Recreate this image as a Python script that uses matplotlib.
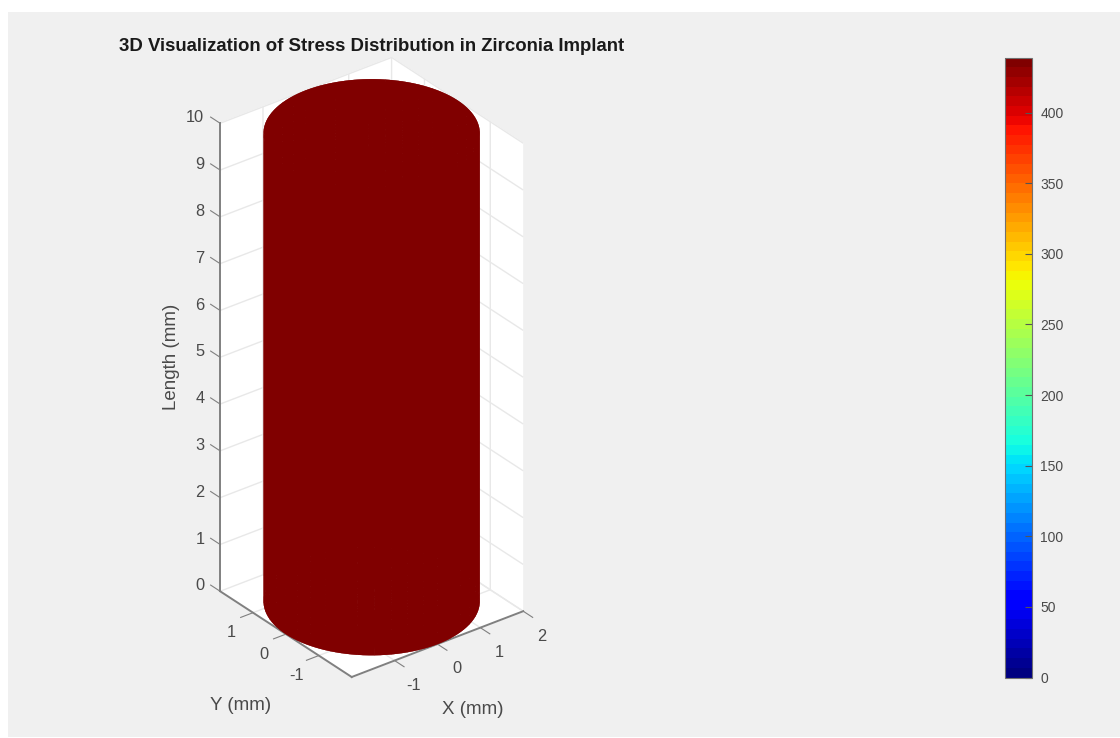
import numpy as np
import matplotlib
matplotlib.use("Agg")
import matplotlib.pyplot as plt
from matplotlib.patches import Rectangle
from matplotlib.cm import ScalarMappable
from matplotlib.colors import Normalize
from matplotlib.transforms import Affine2D
from mpl_toolkits.mplot3d import proj3d

plt.rcParams['font.family'] = ['Liberation Sans', 'DejaVu Sans']
plt.rcParams['axes.unicode_minus'] = False

# data
title = "3D Visualization of Stress Distribution in Zirconia Implant"
xlabel, ylabel, zlabel = "X (mm)", "Y (mm)", "Length (mm)"
radius = 2.0
length = 10.0
stress = 437.0
stress_min = 0.0
stress_max = 439.0
x_ticks = [-1, 0, 1, 2]
y_ticks = [-1, 0, 1]
z_ticks = list(range(0, 11))
cbar_ticks = [0, 50, 100, 150, 200, 250, 300, 350, 400]

W, H = 1120, 738
BG = '#f0f0f0'
TXT = '#4a4a4a'
fig = plt.figure(figsize=(W/100, H/100), dpi=100, facecolor='white')
fig.add_artist(Rectangle((8/W, 1-737/H), (1120-8)/W, (737-12)/H, transform=fig.transFigure,
                         facecolor=BG, edgecolor='none', zorder=-10))

S = 700
ax = fig.add_axes([(372-S/2)/W, 1-(368+S/2)/H, S/W, S/H], projection='3d', proj_type='ortho')
ax.patch.set_alpha(0)
ax.view_init(elev=30, azim=-127.5)
ax.set_xlim(-2, 2); ax.set_ylim(-2, 2); ax.set_zlim(0, 10)
ax.set_box_aspect((1, 1, 2.5), zoom=1.0)

cmap = plt.get_cmap('jet', 64)
norm = Normalize(stress_min, stress_max)
theta = np.linspace(0, 2*np.pi, 121)
zz = np.array([0.0, length])
T, Z = np.meshgrid(theta, zz)
col = cmap(norm(stress))
ax.plot_surface(radius*np.cos(T), radius*np.sin(T), Z, color=col, shade=False,
                linewidth=0.1, edgecolor=col, antialiased=True)
rr = np.array([0, radius])
R, T2 = np.meshgrid(rr, theta)
for zv in zz:
    ax.plot_surface(R*np.cos(T2), R*np.sin(T2), np.full_like(R, zv), color=col, shade=False,
                    linewidth=0.1, edgecolor=col, antialiased=True)

ax.set_xticks(x_ticks); ax.set_yticks(y_ticks); ax.set_zticks(z_ticks)
ax.tick_params(axis='both', labelsize=11.8, labelcolor=TXT, color='#808080', pad=4, width=1.2)
ax.tick_params(axis='z', labelsize=11.8, labelcolor=TXT, color='#808080', pad=4, width=1.2)
ax.zaxis.set_ticks_position('upper')
ax.zaxis._get_tickdir = lambda position: 1  # z ticks run along the y direction

label_px = {ax.xaxis: (xlabel, 472.5, 710, 0), ax.yaxis: (ylabel, 240.5, 706, 0), ax.zaxis: (zlabel, 171, 357, 90)}
for a, (txt, lx, ly, rot) in label_px.items():
    a.set_pane_color((1, 1, 1, 1))
    a.pane.set_edgecolor('white')
    a._axinfo['grid'].update(color='#e8e8e8', linewidth=1.0)
    a._axinfo['axisline']['color'] = '#808080'
    a._axinfo['tick'].update(inward_factor=0.0, outward_factor=0.9)
    a._axinfo['label'].update(va='center', ha='center')
    a.line.set_color('#808080')
    a.line.set_linewidth(1.4)
    a.set_rotate_label(False)
    a.set_label_text(txt, fontsize=13.5, color=TXT, rotation=rot)
    a.label.set_position((lx/W, 1-ly/H))
    a.label.set_position = lambda xy: None   # keep the label where it is placed
    a.label.get_transform = lambda: fig.transFigure
ax.zaxis.set_label_position('upper')
# x and y ticks point out of the box, away from the floor
ax.xaxis._axinfo['tick']['outward_factor'] = -0.9
ax.yaxis._axinfo['tick']['outward_factor'] = -0.9

def shift_labels(axis, dx, dy, ha=None):
    off = Affine2D().translate(dx, dy)
    for t in axis.get_major_ticks():
        t.label1.get_transform = lambda: ax.transData + off
        if ha:
            t.label1.set_ha(ha)
shift_labels(ax.xaxis, 13, 8)
shift_labels(ax.yaxis, -14, 12)
shift_labels(ax.zaxis, -2, 12, ha='right')

# calibrate zoom and position against the target box
def px(x, y, z):
    a, b, _ = proj3d.proj_transform(x, y, z, ax.get_proj())
    return ax.transData.transform((a, b))
fig.canvas.draw()
p0 = px(-2, 2, 0); p1 = px(-2, 2, 10)
z = 468/abs(p1[1]-p0[1])
ax.set_box_aspect((1, 1, 2.5), zoom=z)
fig.canvas.draw()
f = px(-2, -2, 0)
dx, dy = 351.7-f[0], (H-677)-f[1]
ax.set_position([(372-S/2+dx)/W, 1-(368+S/2)/H+dy/H, S/W, S/H])

fig.text(119/W, 1-46.5/H, title, fontsize=13.4, fontweight='bold', color='#1a1a1a', ha='left', va='center')

cax = fig.add_axes([1005/W, 1-677.5/H, 27/W, 620/H])
sm = ScalarMappable(norm=norm, cmap=cmap)
cb = fig.colorbar(sm, cax=cax)
cb.set_ticks(cbar_ticks)
cb.ax.tick_params(direction='in', length=5, width=0.8, color='#555555', labelsize=10, labelcolor=TXT, pad=6)
cb.outline.set_edgecolor('#707070')
cb.outline.set_linewidth(0.8)

fig.savefig('out.png', dpi=100, facecolor=fig.get_facecolor())
